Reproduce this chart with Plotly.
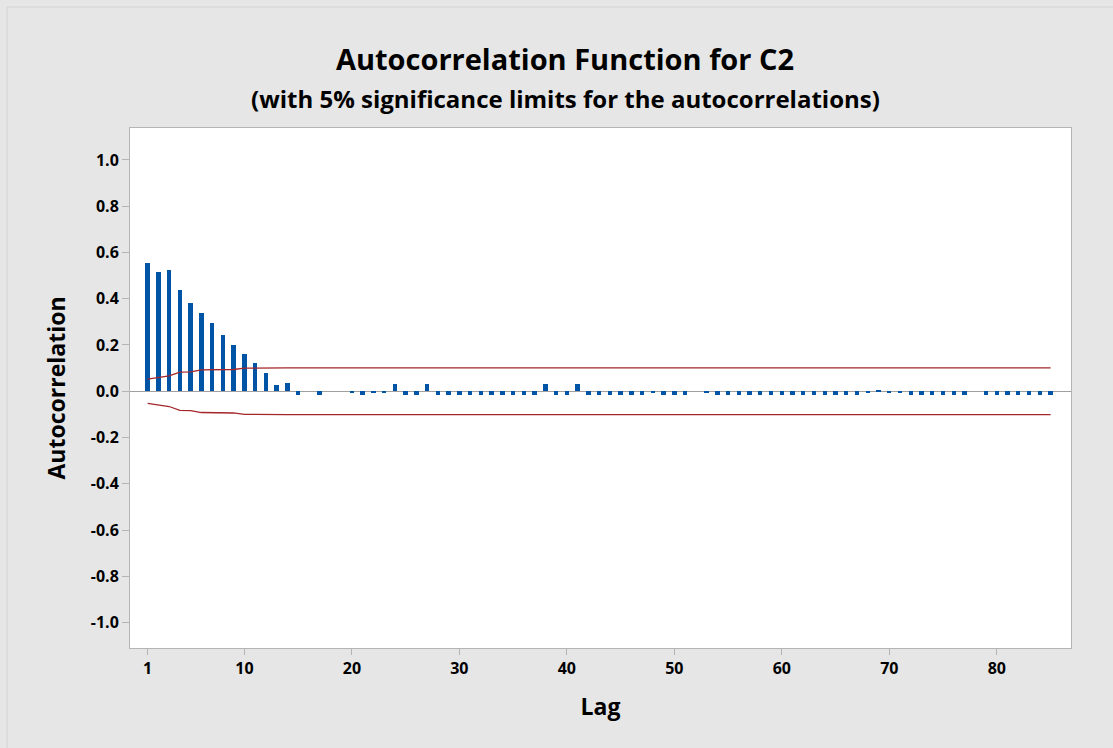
import plotly.graph_objects as go

lags = list(range(1, 86))
acf = [0.555, 0.515, 0.522, 0.438, 0.380, 0.338, 0.297, 0.245, 0.202, 0.162,
       0.120, 0.077, 0.026, 0.035, -0.017, 0.0, -0.017, 0.0, 0.0, -0.008,
       -0.017, -0.008, -0.008, 0.032, -0.017, -0.017, 0.032, -0.017, -0.017, -0.017,
       -0.017, -0.017, -0.017, -0.017, -0.017, -0.017, -0.017, 0.032, -0.017, -0.017,
       0.032, -0.017, -0.017, -0.017, -0.017, -0.017, -0.017, -0.008, -0.017, -0.017,
       -0.017, 0.0, -0.008, -0.017, -0.017, -0.017, -0.017, -0.017, -0.017, -0.017,
       -0.017, -0.017, -0.017, -0.017, -0.017, -0.017, -0.017, -0.008, 0.007, -0.008,
       -0.008, -0.017, -0.017, -0.017, -0.017, -0.017, -0.017, 0.0, -0.017, -0.017,
       -0.017, -0.017, -0.017, -0.017, -0.017]
upper_limit = [0.052, 0.058, 0.066, 0.083, 0.084, 0.092, 0.093, 0.093, 0.094, 0.100,
               0.101, 0.101, 0.101, 0.101, 0.101, 0.101, 0.101, 0.101, 0.101, 0.101,
               0.101, 0.101, 0.101, 0.101, 0.101, 0.101, 0.101, 0.101, 0.101, 0.101,
               0.101, 0.101, 0.101, 0.101, 0.101, 0.101, 0.101, 0.101, 0.101, 0.101,
               0.101, 0.101, 0.101, 0.101, 0.101, 0.101, 0.101, 0.101, 0.101, 0.101,
               0.101, 0.101, 0.101, 0.101, 0.101, 0.101, 0.101, 0.101, 0.101, 0.101,
               0.101, 0.101, 0.101, 0.101, 0.101, 0.101, 0.101, 0.101, 0.101, 0.101,
               0.101, 0.101, 0.101, 0.101, 0.101, 0.101, 0.101, 0.101, 0.101, 0.101,
               0.101, 0.101, 0.101, 0.101, 0.101]
lower_limit = [-v for v in upper_limit]

x_ticks = [1, 10, 20, 30, 40, 50, 60, 70, 80]
y_ticks = [1.0, 0.8, 0.6, 0.4, 0.2, 0.0, -0.2, -0.4, -0.6, -0.8, -1.0]
y_tick_labels = ["1.0", "0.8", "0.6", "0.4", "0.2", "0.0", "-0.2", "-0.4", "-0.6", "-0.8", "-1.0"]

FONT = "Open Sans"
fig = go.Figure()
fig.add_trace(go.Bar(x=lags, y=acf, width=0.4, marker=dict(color="#0054a6", line=dict(width=0)),
                     showlegend=False))
fig.add_trace(go.Scatter(x=lags, y=upper_limit, mode="lines", line=dict(color="#a3262a", width=1.3),
                         showlegend=False))
fig.add_trace(go.Scatter(x=lags, y=lower_limit, mode="lines", line=dict(color="#a3262a", width=1.3),
                         showlegend=False))

fig.update_layout(
    width=1113, height=748,
    paper_bgcolor="#e6e6e6", plot_bgcolor="white",
    margin=dict(l=130, r=42, t=128, b=100),
    font=dict(family=FONT, color="black"),
    title=dict(text="<b>Autocorrelation Function for C2</b>", x=565 / 1113, xanchor="center",
               y=1 - 60 / 748, yanchor="middle", yref="container", xref="container",
               font=dict(family=FONT, size=29, color="black")),
    annotations=[dict(text="<b>(with 5% significance limits for the autocorrelations)</b>",
                      xref="paper", yref="paper", x=(565 - 130) / 941, y=(648 - 98) / 520,
                      xanchor="center", yanchor="middle", showarrow=False,
                      font=dict(family=FONT, size=24, color="black"))],
    shapes=[dict(type="rect", xref="paper", yref="paper",
                 x0=(7 - 130) / 941, x1=(1120 - 130) / 941,
                 y0=(648 - 760) / 520, y1=(648 - 7) / 520,
                 line=dict(color="#d2d2d2", width=1), fillcolor="rgba(0,0,0,0)", layer="below")],
    bargap=0,
)
fig.update_xaxes(range=[-0.64, 86.9], tickvals=x_ticks, ticktext=[str(t) for t in x_ticks],
                 ticks="outside", ticklen=6, tickcolor="#b4b4b4",
                 showline=True, linecolor="#b4b4b4", mirror=True, showgrid=False, zeroline=False,
                 tickfont=dict(family=FONT, size=16, color="black", weight="bold"),
                 title=dict(text="<b>Lag</b>", font=dict(family=FONT, size=23), standoff=20))
fig.update_yaxes(range=[-1.11, 1.138], tickvals=y_ticks, ticktext=y_tick_labels,
                 ticks="outside", ticklen=7, tickcolor="#b4b4b4",
                 showline=True, linecolor="#b4b4b4", mirror=True, showgrid=False,
                 zeroline=True, zerolinecolor="#a0a0a0", zerolinewidth=1,
                 tickfont=dict(family=FONT, size=16, color="black", weight="bold"),
                 title=dict(text="<b>Autocorrelation</b>", font=dict(family=FONT, size=23), standoff=18))

fig.write_html("out.html")
